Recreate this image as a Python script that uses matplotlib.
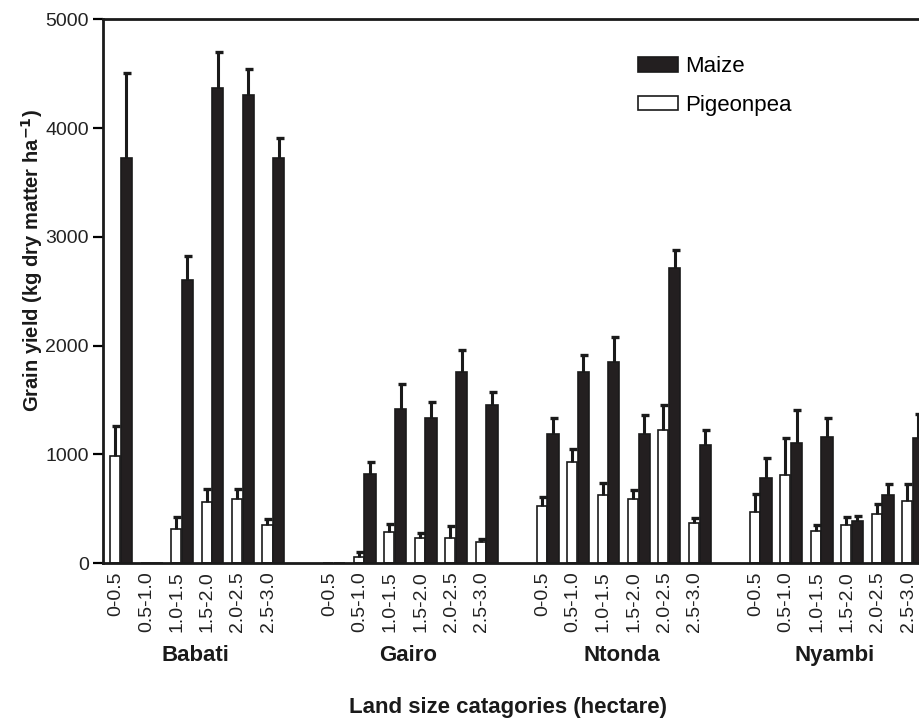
import numpy as np
import matplotlib
matplotlib.use("Agg")
import matplotlib.pyplot as plt
from matplotlib.patches import Patch

plt.rcParams['font.family'] = ['Liberation Sans', 'DejaVu Sans']

# --- data ---
sites = ['Babati', 'Gairo', 'Ntonda', 'Nyambi']
land_sizes = ['0-0.5', '0.5-1.0', '1.0-1.5', '1.5-2.0', '2.0-2.5', '2.5-3.0']

maize = [3720, 0, 2600, 4370, 4300, 3725,
         0, 815, 1415, 1335, 1755, 1455,
         1185, 1755, 1845, 1185, 2710, 1085,
         780, 1105, 1155, 385, 622, 1145]
maize_se = [790, np.nan, 225, 330, 245, 185,
            np.nan, 117, 232, 147, 205, 122,
            147, 156, 232, 172, 170, 140,
            183, 300, 174, 43, 100, 229]

pigeonpea = [980, 0, 312, 564, 589, 347,
             0, 52, 281, 229, 229, 190,
             520, 927, 621, 584, 1223, 367,
             471, 813, 294, 346, 455, 570]
pigeonpea_se = [280, np.nan, 108, 119, 94, 56,
                np.nan, 46, 74, 49, 110, 33,
                85, 122, 113, 83, 230, 46,
                159, 337, 58, 73, 85, 157]

# positions: 6 land-size classes per site, one empty slot between sites
n = len(land_sizes)
x = np.array([g * (n + 1) + i for g in range(len(sites)) for i in range(n)], dtype=float)

fig = plt.figure(figsize=(9.19, 7.2), dpi=100)
ax = fig.add_axes([102.7 / 919, 157 / 720, 816.3 / 919, 543.7 / 720])

w_p, w_m = 0.33, 0.37
xp = x - 0.03
xm = x + 0.34

ax.bar(xp, pigeonpea, width=w_p, color='white', edgecolor='#1a1a1a', linewidth=1.2, zorder=2)
ax.bar(xm, maize, width=w_m, color='#231f20', edgecolor='#1a1a1a', linewidth=1.2, zorder=2)

# upper error bars only, with a small cap
for xs, vals, errs in [(xp, pigeonpea, pigeonpea_se), (xm, maize, maize_se)]:
    vals = np.array(vals, dtype=float)
    errs = np.array(errs, dtype=float)
    ax.errorbar(xs, vals, yerr=[np.zeros_like(errs), errs], fmt='none',
                ecolor='#1a1a1a', elinewidth=2.2, capsize=0, zorder=3)
    ax.plot(xs + 0.03, vals + errs, linestyle='none', marker='_', markersize=6,
            markeredgewidth=2.4, color='#1a1a1a', zorder=3)

ax.set_xlim(-0.44, 26.36)
ax.set_ylim(0, 5000)
ax.set_yticks(np.arange(0, 5001, 1000))
ax.tick_params(axis='y', direction='out', length=7, width=1.6, labelsize=14,
               labelcolor='#222222', pad=3)
ax.set_xticks(x)
ax.set_xticklabels(land_sizes * len(sites), rotation=90, fontsize=14, color='#222222')
ax.tick_params(axis='x', length=0, pad=6)

for side in ['left', 'bottom', 'top']:
    ax.spines[side].set_linewidth(2)
    ax.spines[side].set_color('#1a1a1a')
ax.spines['right'].set_visible(False)

# site names under each group
for g, site in enumerate(sites):
    ax.text(g * (n + 1) + 2.6, -0.171, site, transform=ax.get_xaxis_transform(),
            ha='center', va='center', fontsize=16, fontweight='bold', color='#1a1a1a')

fig.text(508 / 919, 1 - 707 / 720, 'Land size catagories (hectare)', ha='center', va='center',
         fontsize=16, fontweight='bold', color='#1a1a1a')
fig.text(32 / 919, 1 - 261 / 720, 'Grain yield (kg dry matter ha$^{\\mathbf{-1}}$)',
         rotation=90, ha='center', va='center', fontsize=14.5, fontweight='bold', color='#1a1a1a')

handles = [Patch(facecolor='#231f20', edgecolor='#1a1a1a', linewidth=1.2),
           Patch(facecolor='white', edgecolor='#1a1a1a', linewidth=1.2)]
fig.legend(handles, ['Maize', 'Pigeonpea'], loc='upper left',
           bbox_to_anchor=(638 / 919, 1 - 56 / 720), frameon=False, fontsize=16,
           handlelength=1.8, handleheight=0.65, handletextpad=0.3, labelspacing=0.8,
           borderpad=0, borderaxespad=0)

fig.savefig('out.png', dpi=100, facecolor='white')
